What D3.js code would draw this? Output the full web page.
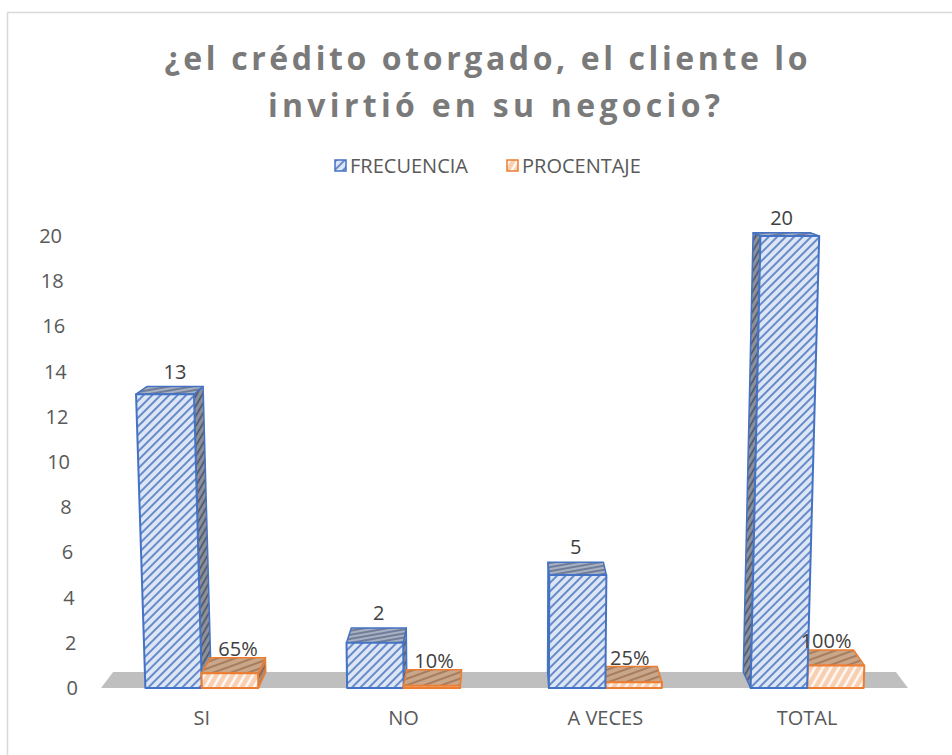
<!DOCTYPE html>
<html>
<head>
<meta charset="utf-8">
<script src="https://cdn.jsdelivr.net/npm/d3@7"></script>
<style>
  body { margin: 0; background: #fff; }
  text { font-family: "Open Sans", "DejaVu Sans", sans-serif; }
</style>
</head>
<body>
<div id="root"></div>
<script>
// Chart data
const categories = ["SI", "NO", "A VECES", "TOTAL"];
const seriesNames = ["FRECUENCIA", "PROCENTAJE"];
const frecuencia = [13, 2, 5, 20];
const procentaje = [0.65, 0.10, 0.25, 1.00];
const yTicks = [0, 2, 4, 6, 8, 10, 12, 14, 16, 18, 20];
const titleLines = ["¿el crédito otorgado, el cliente lo", "invirtió en su negocio?"];

// Size of the page
const width = 952;
const height = 755;
const fontSize = 20;

// fake 3d view settings
const CX = 505;      // horizontal vanishing centre
const LEAN = 0.002;  // columns lean away from centre as they rise
const DEPTH_X = 0.03;
const DEPTH_Y = 16;
const EYE = 25;      // value where top faces go flat

const svg = d3
  .select("#root")
  .append("svg")
  .attr("width", width)
  .attr("height", height);

// Patterns
const defs = svg.append("defs");

function hatch(id, bg, line, angle, gap, lw) {
  const p = defs
    .append("pattern")
    .attr("id", id)
    .attr("patternUnits", "userSpaceOnUse")
    .attr("width", gap)
    .attr("height", gap)
    .attr("patternTransform", "rotate(" + angle + ")");
  p.append("rect").attr("width", gap).attr("height", gap).attr("fill", bg);
  p.append("line")
    .attr("x1", gap / 2)
    .attr("x2", gap / 2)
    .attr("y1", 0)
    .attr("y2", gap)
    .attr("stroke", line)
    .attr("stroke-width", lw);
}

hatch("freqFront", "#dce6f5", "#4a74c0", 45, 6, 1.6);
hatch("freqTop", "#a9b0bf", "#56688c", 80, 4, 1.4);
hatch("freqSide", "#8e929b", "#44506a", 30, 5, 1.6);
hatch("pctFront", "#f9cfb2", "#ffffff", 30, 7, 2.2);
hatch("pctTop", "#c8a68a", "#9b6a48", 70, 6, 1.4);
hatch("pctSide", "#b08a6d", "#8a5a3a", 30, 5, 1.4);

const styles = [
  { front: "url(#freqFront)", top: "url(#freqTop)", side: "url(#freqSide)", stroke: "#4472c4" },
  { front: "url(#pctFront)", top: "url(#pctTop)", side: "url(#pctSide)", stroke: "#ed7d31" }
];

// Border of chart area
svg
  .append("rect")
  .attr("x", 7.5)
  .attr("y", 12.5)
  .attr("width", 980)
  .attr("height", 780)
  .attr("fill", "none")
  .attr("stroke", "#d9d9d9")
  .attr("stroke-width", 1.5);

// Title
svg
  .append("text")
  .attr("x", 486)
  .attr("y", 70)
  .attr("text-anchor", "middle")
  .attr("textLength", 643)
  .attr("lengthAdjust", "spacing")
  .attr("font-size", 32)
  .attr("font-weight", "bold")
  .attr("fill", "#7a7a7a")
  .text(titleLines[0]);

svg
  .append("text")
  .attr("x", 494)
  .attr("y", 117)
  .attr("text-anchor", "middle")
  .attr("textLength", 452)
  .attr("lengthAdjust", "spacing")
  .attr("font-size", 32)
  .attr("font-weight", "bold")
  .attr("fill", "#7a7a7a")
  .text(titleLines[1]);

// Legend
const legendX = [335, 507];
seriesNames.forEach((name, i) => {
  svg
    .append("rect")
    .attr("x", legendX[i])
    .attr("y", 160)
    .attr("width", 11)
    .attr("height", 11)
    .attr("fill", styles[i].front)
    .attr("stroke", styles[i].stroke)
    .attr("stroke-width", 1.5);
  svg
    .append("text")
    .attr("x", legendX[i] + 15)
    .attr("y", 173)
    .attr("font-size", fontSize)
    .attr("fill", "#595959")
    .text(name);
});

// Scales
const xScale = d3
  .scaleBand()
  .domain(categories)
  .range([101, 908])
  .paddingInner(0.44)
  .paddingOuter(0.22);

const xSub = d3
  .scaleBand()
  .domain([0, 1])
  .range([0, xScale.bandwidth()]);

const yScale = d3.scaleLinear().domain([0, 20]).range([688, 236]);

function proj(X, v, d) {
  const fx = X + (X - CX) * LEAN * v;
  const fy = yScale(v);
  return [fx + d * (CX - X) * DEPTH_X, fy - d * DEPTH_Y * (1 - v / EYE)];
}

const poly = pts => pts.map(p => p.join(",")).join(" ");

// Floor
const floorL = xScale.range()[0];
const floorR = xScale.range()[1];
svg
  .append("polygon")
  .attr("points", poly([proj(floorL, 0, 0), proj(floorR, 0, 0), proj(floorR, 0, 1), proj(floorL, 0, 1)]))
  .attr("fill", "#bfbfbf");

// Y axis labels
svg
  .append("g")
  .selectAll("text")
  .data(yTicks)
  .enter()
  .append("text")
  .attr("x", d => 78 - 0.8 * d)
  .attr("y", d => yScale(d))
  .attr("dy", "0.35em")
  .attr("text-anchor", "end")
  .attr("font-size", fontSize)
  .attr("fill", "#595959")
  .text(d => d);

// X axis labels
svg
  .append("g")
  .selectAll("text")
  .data(categories)
  .enter()
  .append("text")
  .attr("x", d => xScale(d) + xScale.bandwidth() / 2)
  .attr("y", 725)
  .attr("text-anchor", "middle")
  .attr("font-size", fontSize)
  .attr("fill", "#595959")
  .text(d => d);

// Build list of bars
const bars = [];
categories.forEach((c, i) => {
  [frecuencia[i], procentaje[i]].forEach((v, s) => {
    const x0 = xScale(c) + xSub(s);
    bars.push({ x0: x0, x1: x0 + xSub.bandwidth(), v: v, s: s });
  });
});

// draw from the outside towards the centre so nearer faces cover the rest
bars.sort((a, b) => Math.abs((b.x0 + b.x1) / 2 - CX) - Math.abs((a.x0 + a.x1) / 2 - CX));

const fmtPct = d3.format(".0%");

function drawBar(b) {
  const st = styles[b.s];
  const g = svg.append("g").attr("class", b.s === 0 ? "frecuencia" : "procentaje");
  const sideX = b.x1 < CX ? b.x1 : b.x0 > CX ? b.x0 : null;
  if (sideX !== null) {
    g.append("polygon")
      .attr("points", poly([proj(sideX, 0, 0), proj(sideX, b.v, 0), proj(sideX, b.v, 1), proj(sideX, 0, 1)]))
      .attr("fill", st.side)
      .attr("stroke", st.stroke)
      .attr("stroke-width", 1.5)
      .attr("stroke-linejoin", "round");
  }
  g.append("polygon")
    .attr("points", poly([proj(b.x0, b.v, 0), proj(b.x1, b.v, 0), proj(b.x1, b.v, 1), proj(b.x0, b.v, 1)]))
    .attr("fill", st.top)
    .attr("stroke", st.stroke)
    .attr("stroke-width", 1.5)
    .attr("stroke-linejoin", "round");
  g.append("polygon")
    .attr("points", poly([proj(b.x0, 0, 0), proj(b.x1, 0, 0), proj(b.x1, b.v, 0), proj(b.x0, b.v, 0)]))
    .attr("fill", st.front)
    .attr("stroke", st.stroke)
    .attr("stroke-width", 2)
    .attr("stroke-linejoin", "round");
}

bars.forEach(drawBar);

// Data labels
bars.forEach(b => {
  const a = proj(b.x0, b.v, 1);
  const c = proj(b.x1, b.v, 1);
  svg
    .append("text")
    .attr("x", (a[0] + c[0]) / 2)
    .attr("y", Math.min(a[1], c[1]) - (b.s === 0 ? 8 : 2))
    .attr("text-anchor", "middle")
    .attr("font-size", fontSize)
    .attr("fill", "#404040")
    .text(b.s === 0 ? b.v : fmtPct(b.v));
});
</script>
</body>
</html>
